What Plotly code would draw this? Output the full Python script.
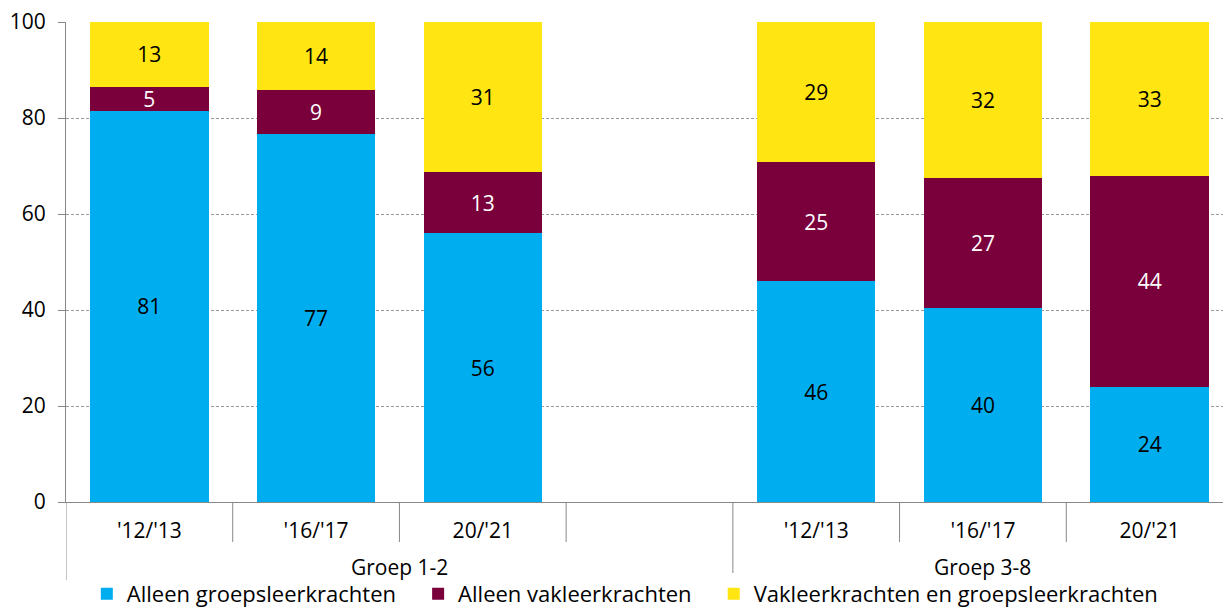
import plotly.graph_objects as go

groups = ["Groep 1-2", "Groep 1-2", "Groep 1-2", "Groep 1-2", "Groep 3-8", "Groep 3-8", "Groep 3-8"]
years = ["'12/'13", "'16/'17", "20/'21", "", "'12/'13", "'16/'17", "20/'21"]

alleen_groeps = [81.5, 76.7, 56.0, None, 46.0, 40.4, 24.0]
alleen_vak = [5.0, 9.1, 12.7, None, 24.8, 27.1, 43.9]
vak_en_groeps = [13.5, 14.2, 31.3, None, 29.2, 32.5, 32.1]

lbl_groeps = ["81", "77", "56", "", "46", "40", "24"]
lbl_vak = ["5", "9", "13", "", "25", "27", "44"]
lbl_beide = ["13", "14", "31", "", "29", "32", "33"]

names = ["Alleen groepsleerkrachten", "Alleen vakleerkrachten", "Vakleerkrachten en groepsleerkrachten"]
colors = ["#00AEEF", "#7A003C", "#FFE512"]
text_colors = ["black", "white", "black"]

FONT = "Open Sans"
FS = 21
AXIS_COL = "#888888"
PLOT_H = 480.0  # px height of plot area (for paper-fraction offsets below axis)

xpos = list(range(len(years)))

fig = go.Figure()
for i, (vals, lbls, name, col, tc) in enumerate(zip(
    [alleen_groeps, alleen_vak, vak_en_groeps],
    [lbl_groeps, lbl_vak, lbl_beide],
    names, colors, text_colors,
)):
    pad = "\u00a0\u00a0\u00a0" if i < 2 else ""
    fig.add_trace(go.Bar(
        x=xpos, y=vals, name=name + pad,
        marker=dict(color=col, line=dict(width=0)),
        text=lbls, textposition="inside", insidetextanchor="middle",
        textangle=0, constraintext="none",
        textfont=dict(color=tc, size=FS, family=FONT),
        width=0.71, hoverinfo="skip",
    ))

# boundary ticks / dividers and group labels
group_names = []
for g in groups:
    if g not in group_names:
        group_names.append(g)
starts = [groups.index(g) for g in group_names]
ends = [len(groups) - 1 - groups[::-1].index(g) for g in group_names]

shapes = []
for k in range(len(years) - 1):
    b = k + 0.5
    is_group_edge = groups[k] != groups[k + 1]
    depth = 78 if is_group_edge else 40
    shapes.append(dict(type="line", xref="x", yref="paper", x0=b, x1=b,
                       y0=0, y1=-depth / PLOT_H, line=dict(color=AXIS_COL, width=1)))
shapes.append(dict(type="line", xref="x", yref="paper", x0=-0.5, x1=-0.5,
                   y0=0, y1=-78 / PLOT_H, line=dict(color=AXIS_COL, width=1)))

annotations = []
for g, s, e in zip(group_names, starts, ends):
    annotations.append(dict(text=g, xref="x", yref="paper", x=(s + e) / 2, y=-65 / PLOT_H,
                            xanchor="center", yanchor="middle", showarrow=False,
                            font=dict(size=FS, family=FONT, color="black")))

fig.update_layout(
    barmode="stack",
    width=1223, height=608,
    margin=dict(l=66, r=0, t=22, b=106, autoexpand=False),
    paper_bgcolor="white", plot_bgcolor="white",
    font=dict(family=FONT, size=FS, color="black"),
    showlegend=True,
    shapes=shapes, annotations=annotations,
    legend=dict(orientation="h", x=0.018, xanchor="left", y=-92 / PLOT_H, yanchor="middle",
                font=dict(size=22, family=FONT), traceorder="normal",
                itemwidth=30, tracegroupgap=0),
)
fig.update_xaxes(
    range=[-0.5, 6.44],
    tickmode="array", tickvals=xpos, ticktext=years,
    showline=True, linecolor=AXIS_COL, linewidth=1,
    ticks="", ticklabelstandoff=10,
    tickfont=dict(size=FS, family=FONT),
    showgrid=False, zeroline=False, automargin=False,
)
fig.update_yaxes(
    range=[0, 100], dtick=20,
    showline=True, linecolor=AXIS_COL, linewidth=1,
    ticks="outside", ticklen=7, tickcolor=AXIS_COL,
    showgrid=True, gridcolor="#999999", griddash="3px,2px", gridwidth=1,
    tickfont=dict(size=FS, family=FONT),
    ticklabelstandoff=8,
    zeroline=False, automargin=False,
)
fig.write_html("out.html", config={"displayModeBar": False},
               post_script="document.body.style.margin='0';document.body.style.padding='0';")
